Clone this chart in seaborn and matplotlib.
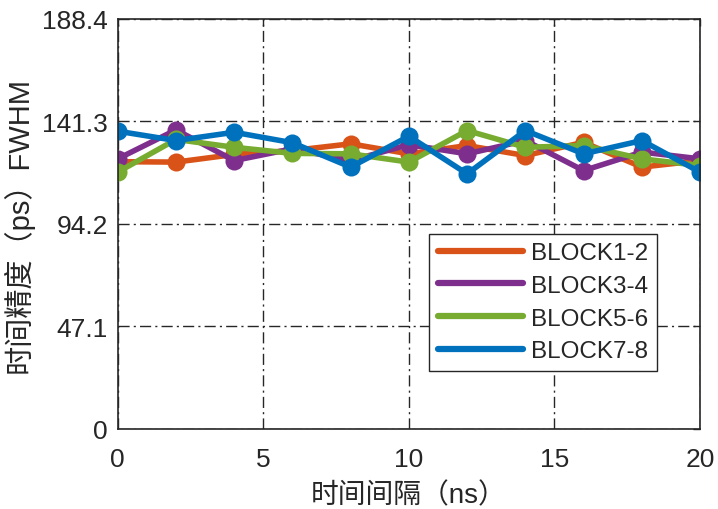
import numpy as np
import pandas as pd
import matplotlib
matplotlib.use("Agg")
import matplotlib.pyplot as plt
from matplotlib.lines import Line2D
import seaborn as sns

# Interval (ns) and FWHM timing precision (ps) for each block pair
intervals = [0, 2, 4, 6, 8, 10, 12, 14, 16, 18, 20]
block1_2 = [122.8, 122.6, 126.1, 127.9, 131.0, 126.4, 130.2, 125.6, 131.7, 120.3, 123.3]
block3_4 = [124.1, 137.4, 123.3, 128.7, 123.3, 130.6, 126.4, 132.5, 118.7, 127.2, 124.1]
block5_6 = [118.0, 133.0, 129.4, 126.6, 126.4, 122.6, 137.1, 129.4, 130.2, 124.1, 121.0]
block7_8 = [136.8, 132.5, 136.3, 131.5, 120.3, 134.5, 117.2, 137.1, 126.4, 132.5, 118.0]
series_names = ["BLOCK1-2", "BLOCK3-4", "BLOCK5-6", "BLOCK7-8"]
y_ticks = [0, 47.1, 94.2, 141.3, 188.4]
y_tick_labels = ["0", "47.1", "94.2", "141.3", "188.4"]
x_ticks = [0, 5, 10, 15, 20]

colors = ["#D95319", "#7E2F8E", "#77AC30", "#0072BD"]

df = pd.DataFrame({
    "interval": intervals * 4,
    "fwhm": block1_2 + block3_4 + block5_6 + block7_8,
    "block": np.repeat(series_names, len(intervals)),
})

sns.set_theme(style="white")
plt.rcParams["font.family"] = ["Liberation Sans", "Noto Sans CJK SC"]

fig = plt.figure(figsize=(7.18, 5.10), dpi=100)
ax = fig.add_axes([0.164, 0.157, 0.811, 0.804])

sns.lineplot(data=df, x="interval", y="fwhm", hue="block", hue_order=series_names,
             palette=colors, marker="o", markersize=13, markeredgewidth=0,
             linewidth=4, ax=ax, legend=False)

ax.set_xlim(0, 20)
ax.set_ylim(0, 188.4)
ax.set_xticks(x_ticks)
ax.set_yticks(y_ticks)
ax.set_yticklabels(y_tick_labels)
ax.tick_params(direction="in", length=5, width=1, labelsize=19, colors="#262626",
               top=True, right=True)
ax.tick_params(axis="x", pad=13)
ax.tick_params(axis="y", pad=7)
ax.grid(True, color="#262626", linestyle=(0, (8, 3, 1.5, 3)), linewidth=1)
for sp in ax.spines.values():
    sp.set_color("#262626")
    sp.set_linewidth(1.2)

ax.set_xlabel("时间间隔（ns）", labelpad=8, fontsize=20, color="#262626")
ax.set_ylabel("时间精度（ps）FWHM", labelpad=6, fontsize=21, color="#262626")

handles = [Line2D([0], [0], color=c, linewidth=4.5) for c in colors]
leg = ax.legend(handles, series_names, loc="lower right", bbox_to_anchor=(0.926, 0.1415),
                fontsize=17.5, handlelength=3.5, handletextpad=0.35, labelspacing=0.44,
                frameon=True, fancybox=False, borderpad=0.35, borderaxespad=0)
leg.get_frame().set_edgecolor("#262626")
leg.get_frame().set_linewidth(1)
leg.get_frame().set_facecolor("white")
leg.get_frame().set_alpha(1)

fig.savefig("out.png", dpi=100)
